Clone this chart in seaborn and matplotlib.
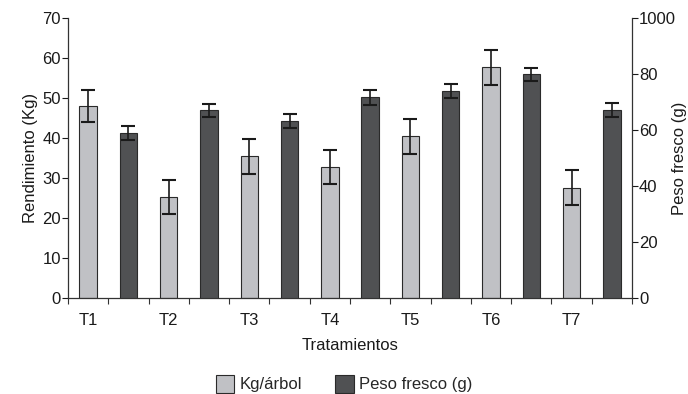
import matplotlib
matplotlib.use("Agg")
import matplotlib.pyplot as plt
from matplotlib.patches import Patch
import seaborn as sns
import pandas as pd
import numpy as np

tratamientos = ["T1", "T2", "T3", "T4", "T5", "T6", "T7"]
kg_arbol = [48.0, 25.3, 35.4, 32.7, 40.4, 57.7, 27.6]
kg_err = [3.9, 4.2, 4.3, 4.3, 4.4, 4.4, 4.3]
peso_fresco = [59.0, 67.0, 63.2, 71.7, 74.0, 79.9, 67.3]
peso_err = [2.4, 2.4, 2.4, 2.6, 2.5, 2.4, 2.5]
left_ticks = [0, 10, 20, 30, 40, 50, 60, 70]
right_ticks = [0, 20, 40, 60, 80, 100]
right_tick_labels = ["0", "20", "40", "60", "80", "1000"]

sns.set_theme(style="ticks")
plt.rcParams["font.family"] = ["Liberation Sans", "DejaVu Sans"]

FS = 12
light = "#c0c1c5"
dark = "#505153"
edge = "#2a2a2a"
txt = "#1a1a1a"

slots = []
for t in tratamientos:
    slots += [t + "_kg", t + "_pf"]
df_kg = pd.DataFrame({"slot": [t + "_kg" for t in tratamientos], "valor": kg_arbol})
df_pf = pd.DataFrame({"slot": [t + "_pf" for t in tratamientos], "valor": peso_fresco})

fig = plt.figure(figsize=(6.88, 3.94), dpi=100)
ax = fig.add_axes([0.0988, 0.2437, 0.8198, 0.7103])
ax2 = ax.twinx()

sns.barplot(data=df_kg, x="slot", y="valor", order=slots, color=light, width=0.43,
            edgecolor=edge, linewidth=0.8, saturation=1, errorbar=None, ax=ax)
sns.barplot(data=df_pf, x="slot", y="valor", order=slots, color=dark, width=0.43,
            edgecolor=edge, linewidth=0.8, saturation=1, errorbar=None, ax=ax2)

xk = np.arange(0, 14, 2)
xp = np.arange(1, 14, 2)
ax.errorbar(xk, kg_arbol, yerr=kg_err, fmt="none", ecolor=txt, elinewidth=1.2, capsize=4.7, capthick=1.5)
ax2.errorbar(xp, peso_fresco, yerr=peso_err, fmt="none", ecolor=txt, elinewidth=1.2, capsize=4.7, capthick=1.5)

for a in (ax, ax2):
    a.set_xlim(-0.5, 13.5)
    a.set_xlabel("")
ax.set_ylim(0, 70)
ax2.set_ylim(0, 100)
ax.set_yticks(left_ticks)
ax2.set_yticks(right_ticks)
ax2.set_yticklabels(right_tick_labels)

ax.set_xticks(np.arange(-0.5, 14, 1))
ax.set_xticklabels([])
ax.set_xticks(xk, minor=True)
ax.set_xticklabels(tratamientos, minor=True)
ax.tick_params(axis="x", which="major", length=4, width=0.8, color="#333333", direction="out")
ax.tick_params(axis="x", which="minor", length=0, labelsize=FS, pad=11, colors=txt)
ax.tick_params(axis="y", length=4, width=0.8, labelsize=FS, pad=1, colors=txt)
ax2.tick_params(axis="y", length=4, width=0.8, labelsize=FS, pad=1, colors=txt)

for a in (ax, ax2):
    a.spines["top"].set_visible(False)
    for s in ("left", "right", "bottom"):
        a.spines[s].set_color("#333333")
        a.spines[s].set_linewidth(0.9)
ax.spines["right"].set_visible(False)
ax2.spines["left"].set_visible(False)
ax2.spines["bottom"].set_visible(False)

ax.set_ylabel("Rendimiento (Kg)", fontsize=FS, color=txt, labelpad=3)
ax2.set_ylabel("Peso fresco (g)", fontsize=FS, color=txt, labelpad=-3)
ax.set_xlabel("Tratamientos", fontsize=FS, color=txt, labelpad=7)

handles = [Patch(facecolor=light, edgecolor=edge, linewidth=0.8, label="Kg/árbol"),
           Patch(facecolor=dark, edgecolor=edge, linewidth=0.8, label="Peso fresco (g)")]
fig.legend(handles=handles, loc="lower center", bbox_to_anchor=(0.5, -0.035), ncol=2,
           frameon=False, fontsize=FS, handlelength=1.1, handleheight=1.3,
           columnspacing=2.0, handletextpad=0.3)

fig.savefig("out.png", dpi=100)
